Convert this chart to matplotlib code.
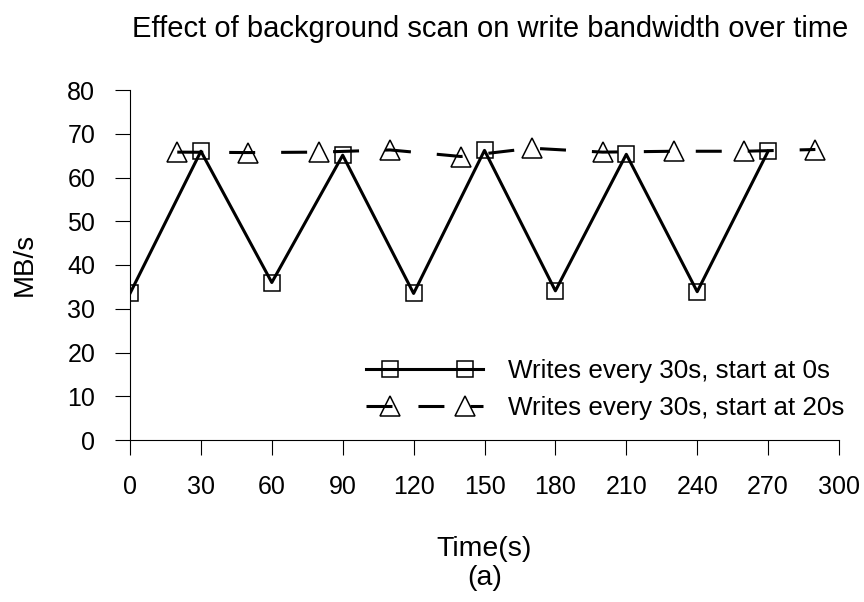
import numpy as np
import matplotlib
matplotlib.use("Agg")
import matplotlib.pyplot as plt
from matplotlib.lines import Line2D
from matplotlib.legend_handler import HandlerLine2D

plt.rcParams['font.family'] = ['Liberation Sans', 'DejaVu Sans']
plt.rcParams['font.size'] = 18

# data
t_start0 = [0, 30, 60, 90, 120, 150, 180, 210, 240, 270]
bw_start0 = [33.5, 66.0, 36.0, 65.1, 33.5, 66.2, 34.1, 65.3, 33.9, 66.0]
t_start20 = [20, 50, 80, 110, 140, 170, 200, 230, 260, 290]
bw_start20 = [65.8, 65.7, 65.8, 66.3, 64.8, 66.7, 65.8, 66.0, 66.0, 66.4]

labels = ["Writes every 30s, start at 0s", "Writes every 30s, start at 20s"]
xticks = list(range(0, 301, 30))
yticks = list(range(0, 81, 10))


class EndMarkers(HandlerLine2D):
    # gnuplot-style key: line spans whole sample, points set in from the ends
    def create_artists(self, legend, orig_handle, xdescent, ydescent,
                       width, height, fontsize, trans):
        x0 = -xdescent
        xdata = np.array([x0, x0 + 0.92 * fontsize,
                          x0 + width - 0.7 * fontsize, x0 + width])
        ydata = np.full_like(xdata, (height - ydescent) / 2)
        line = Line2D(xdata, ydata)
        self.update_prop(line, orig_handle, legend)
        line.set_markevery([1, 2])
        line.set_transform(trans)
        return [line]


fig = plt.figure(figsize=(8.64, 6.02), dpi=100)
ax = fig.add_axes([130 / 864, 1 - 440 / 602, 709 / 864, 350 / 602])

l1, = ax.plot(t_start0, bw_start0, color='black', lw=2.2, marker='s',
              ms=11.5, mfc='none', mec='black', mew=1.1, label=labels[0])
l2, = ax.plot(t_start20, bw_start20, color='black', lw=2.2,
              linestyle=(0, (8.5, 8.5)), marker='^', ms=14, mfc='none',
              mec='black', mew=1.1, label=labels[1])

ax.set_xlim(0, 300)
ax.set_ylim(0, 80)
ax.set_xticks(xticks)
ax.set_yticks(yticks)
for side in ['top', 'right']:
    ax.spines[side].set_visible(False)
for side in ['left', 'bottom']:
    ax.spines[side].set_linewidth(0.8)
ax.tick_params(direction='out', length=11, width=0.8, pad=14, labelsize=18)

fig.text(490.5 / 864, 1 - 29 / 602, "Effect of background scan on write bandwidth over time",
         ha='center', va='center', fontsize=21)
fig.text(25 / 864, 1 - 264 / 602, "MB/s", rotation=90, ha='center', va='center', fontsize=20)
fig.text(484.5 / 864, 1 - 549 / 602, "Time(s)", ha='center', va='center', fontsize=20.5)
fig.text(484.5 / 864, 1 - 578 / 602, "(a)", ha='center', va='center', fontsize=20.5)

ax.legend(handles=[l1, l2], loc='upper left',
          bbox_to_anchor=(366 / 864, 1 - 359 / 602), bbox_transform=fig.transFigure,
          frameon=False, borderpad=0, borderaxespad=0, handlelength=4.5,
          handletextpad=0.95, labelspacing=0.5, fontsize=18.75,
          handler_map={Line2D: EndMarkers()})

fig.savefig("out.png", dpi=100)
